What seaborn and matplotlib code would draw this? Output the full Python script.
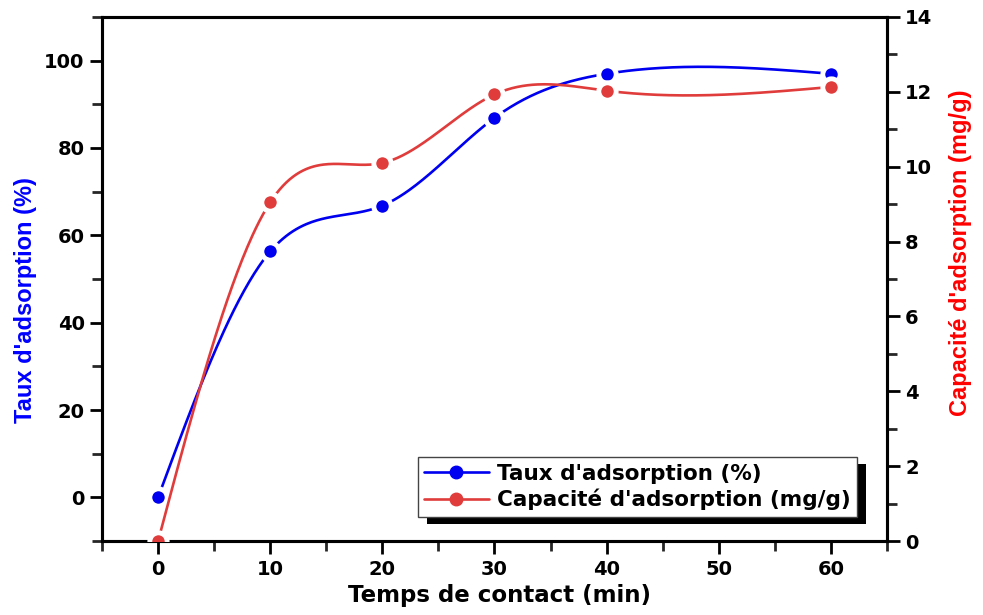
import numpy as np
import matplotlib
matplotlib.use("Agg")
import matplotlib.pyplot as plt
import seaborn as sns
from matplotlib.lines import Line2D
from matplotlib.patches import Rectangle
from matplotlib.transforms import IdentityTransform
from matplotlib.ticker import MultipleLocator

# data
temps = [0, 10, 20, 30, 40, 60]
taux = [0.0, 56.3, 66.8, 86.9, 97.0, 97.0]          # %
capacite = [0.0, 9.05, 10.1, 11.93, 12.03, 12.13]   # mg/g

BLUE = "#0000F0"
RED = "#E03C3C"


def spline_curve(x, y, n=400):
    # natural cubic spline, only used to draw the smooth connecting line
    x = np.asarray(x, float)
    y = np.asarray(y, float)
    k = len(x)
    h = np.diff(x)
    A = np.zeros((k, k))
    b = np.zeros(k)
    A[0, 0] = A[-1, -1] = 1
    for i in range(1, k - 1):
        A[i, i - 1] = h[i - 1]
        A[i, i] = 2 * (h[i - 1] + h[i])
        A[i, i + 1] = h[i]
        b[i] = 3 * ((y[i + 1] - y[i]) / h[i] - (y[i] - y[i - 1]) / h[i - 1])
    c = np.linalg.solve(A, b)
    xs = np.linspace(x[0], x[-1], n)
    idx = np.clip(np.searchsorted(x, xs) - 1, 0, k - 2)
    dx = xs - x[idx]
    bb = (y[idx + 1] - y[idx]) / h[idx] - h[idx] * (2 * c[idx] + c[idx + 1]) / 3
    dd = (c[idx + 1] - c[idx]) / (3 * h[idx])
    return xs, y[idx] + bb * dx + c[idx] * dx ** 2 + dd * dx ** 3


sns.set_theme(style="ticks")
plt.rcParams["font.family"] = "DejaVu Sans"
plt.rcParams["font.weight"] = "bold"
plt.rcParams["text.color"] = "black"
plt.rcParams["axes.labelcolor"] = "black"

fig = plt.figure(figsize=(9.83, 6.15), dpi=100)
ax = fig.add_axes([0.1038, 0.1203, 0.7985, 0.8521])
ax2 = ax.twinx()

# blue series (left axis)
xs, ys = spline_curve(temps, taux)
sns.lineplot(x=xs, y=ys, ax=ax, color=BLUE, linewidth=1.9, sort=False)
ax.plot(temps, taux, "o", color=BLUE, ms=12.5, mec="white", mew=3.5, zorder=3)

# red series (right axis)
xs, ys = spline_curve(temps, capacite)
sns.lineplot(x=xs, y=ys, ax=ax2, color=RED, linewidth=1.9, sort=False)
ax2.plot(temps, capacite, "o", color=RED, ms=12.5, mec="white", mew=3.5, zorder=3)

ax.set_xlim(-5, 65)
ax.set_ylim(-10, 110)
ax2.set_ylim(0, 14)

ax.xaxis.set_major_locator(MultipleLocator(10))
ax.xaxis.set_minor_locator(MultipleLocator(5))
ax.yaxis.set_major_locator(MultipleLocator(20))
ax.yaxis.set_minor_locator(MultipleLocator(10))
ax2.yaxis.set_major_locator(MultipleLocator(2))
ax2.yaxis.set_minor_locator(MultipleLocator(1))

for a in (ax, ax2):
    for s in a.spines.values():
        s.set_linewidth(2.2)
        s.set_color("black")
    a.tick_params(which="major", length=9, width=2, direction="out", labelsize=14, colors="black")
    a.tick_params(which="minor", length=7, width=2, direction="out")
ax.tick_params(axis="y", pad=3.5)
ax.tick_params(axis="x", pad=5)
ax2.tick_params(axis="y", pad=4)
ax.tick_params(axis="y", which="both", right=False)
ax2.tick_params(axis="x", which="both", bottom=False, labelbottom=False)

ax.set_xlabel("Temps de contact (min)", fontsize=16.5, fontweight="bold", color="black")
ax.xaxis.set_label_coords(0.506, -0.082)
ax.set_ylabel("Taux d'adsorption (%)", fontsize=17, fontweight="bold",
              color="#0000FF", family="Liberation Sans")
ax.yaxis.set_label_coords(-0.083, 0.46)
ax2.set_ylabel("Capacité d'adsorption (mg/g)", fontsize=17, fontweight="bold",
               color="#FF0000", family="Liberation Sans")
ax2.yaxis.set_label_coords(1.079, 0.55)

handles = [
    Line2D([], [], color=BLUE, lw=1.9, marker="o", ms=9),
    Line2D([], [], color=RED, lw=1.9, marker="o", ms=9),
]
leg = ax2.legend(handles, ["Taux d'adsorption (%)", "Capacité d'adsorption (mg/g)"],
                 loc="lower left", bbox_to_anchor=(0.402, 0.046), fontsize=15.5,
                 frameon=True, fancybox=False, framealpha=1, edgecolor="#444444",
                 handlelength=3.0, handletextpad=0.4, labelspacing=0.25,
                 borderpad=0.3, borderaxespad=0)
leg.get_frame().set_linewidth(1.0)
for t in leg.get_texts():
    t.set_fontweight("bold")
    t.set_color("black")

# drop shadow behind the legend box
fig.canvas.draw()
bb = leg.get_window_extent()
shadow = Rectangle((bb.x0 + 9, bb.y0 - 7), bb.width, bb.height, transform=IdentityTransform(),
                   facecolor="black", edgecolor="none", zorder=leg.get_zorder() - 0.1, clip_on=False)
ax2.add_patch(shadow)

fig.savefig("out.png", dpi=100)
